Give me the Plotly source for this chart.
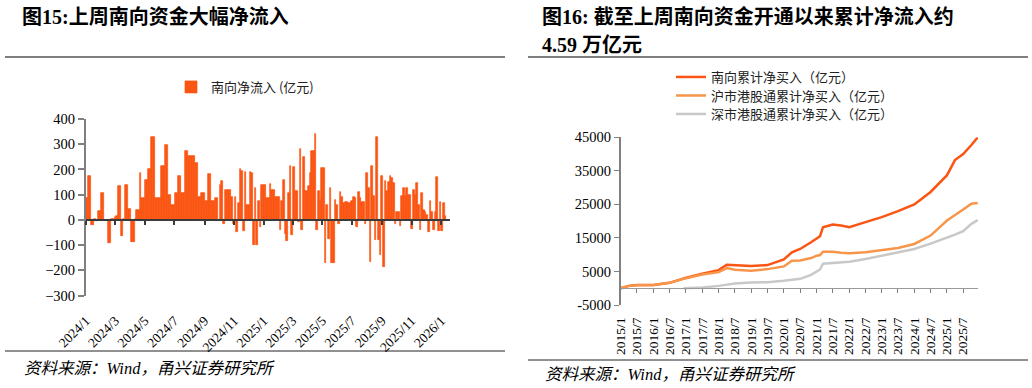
import plotly.graph_objects as go
import pandas as pd

W, H = 1032, 388


def px(x):
    return x / W


def py(y):
    return 1 - y / H


# ---------------- Data: left chart (南向净流入, 亿元) ----------------
flow_values = [
    85, 172, 172, -20, -20, 5, -5, 35, 35, 105, 105, 0, 0, -90, -90, 5, 5, 10, 15, 135,
    135, -65, 5, 138, 138, 45, 45, -88, -88, 5, 40, 40, 185, 88, 88, 160, 160, 200, 200, 328,
    328, 85, 85, 85, 85, 215, 215, 298, 298, 98, 98, 60, 60, 108, 108, 175, 175, 105, 105, 275,
    275, 255, 255, 252, 252, 225, 225, 92, 92, 105, 105, 75, 75, 180, 180, 75, 75, 88, 88, 0,
    140, 155, -15, 120, 120, 118, 118, 90, -15, 90, -48, 65, 200, 195, -45, 188, 60, 60, 188, 185,
    -100, 125, -100, 75, -30, 140, 140, 140, 85, 85, 143, 118, 118, 92, 92, 90, -40, 75, 158, -55,
    -85, 105, 212, -60, 210, 115, 115, -10, 280, -40, 250, 115, 115, 135, 185, 275, 275, 340, -40, 115,
    80, 205, 205, -170, 60, -75, 128, -172, -172, 80, 60, -15, 110, 90, 65, 70, 70, 65, 65, 75,
    90, 85, -30, 112, 85, 70, 70, -15, 185, 125, -168, 215, 95, -80, 330, -80, -140, 175, -188, 155,
    115, 150, 175, 165, 148, -15, 30, 30, -25, 95, 128, 95, 128, 100, 100, -35, 120, 100, 148, 60,
    -40, 105, 40, 30, 20, -50, 75, 30, -40, 30, 170, -45, 70, -45, 65, 15,
]
flow_start, flow_end = "2024-01-03", "2026-01-10"
left_tickvals = ["2024-01-01", "2024-03-01", "2024-05-01", "2024-07-01", "2024-09-01", "2024-11-01",
                 "2025-01-01", "2025-03-01", "2025-05-01", "2025-07-01", "2025-09-01", "2025-11-01",
                 "2026-01-01"]
left_ticktext = ["2024/1", "2024/3", "2024/5", "2024/7", "2024/9", "2024/11",
                 "2025/1", "2025/3", "2025/5", "2025/7", "2025/9", "2025/11", "2026/1"]

# ---------------- Data: right chart (累计净买入, 亿元) ----------------
cum_dates = ["2015-01-02", "2015-04-01", "2015-07-01", "2016-01-04", "2016-07-01", "2017-01-03",
             "2017-07-03", "2018-01-02", "2018-04-02", "2018-07-02", "2019-01-02", "2019-07-02",
             "2020-01-02", "2020-04-01", "2020-07-02", "2020-11-02", "2021-01-04", "2021-02-10",
             "2021-03-15", "2021-07-02", "2021-10-04", "2022-01-04", "2022-07-04", "2023-01-03",
             "2023-07-03", "2024-01-02", "2024-07-02", "2025-01-02", "2025-04-01", "2025-07-02",
             "2025-10-02", "2025-12-12"]
south_total = [0, 700, 960, 1000, 1600, 3100, 4300, 5400, 7000, 6800, 6600, 6900,
               8600, 10700, 11700, 13700, 14900, 15500, 18200, 19000, 18700, 18200, 19700, 21200,
               23000, 25000, 28700, 33700, 38200, 40000, 42700, 45000]
sh_total = [0, 700, 900, 1000, 1600, 3000, 4100, 4800, 6000, 5500, 5200, 5700,
            6500, 8200, 8300, 9000, 9700, 9900, 10900, 10900, 10600, 10400, 10700, 11400,
            12000, 13200, 15700, 20200, 21700, 23500, 25200, 25400]
sz_dates = ["2016-12-05", "2017-07-03", "2018-01-02", "2018-07-02", "2019-01-02", "2019-07-02",
            "2020-01-02", "2020-07-02", "2020-11-02", "2021-01-04", "2021-02-10", "2021-03-15",
            "2021-07-02", "2022-01-04", "2022-07-04", "2023-01-03", "2023-07-03", "2024-01-02",
            "2024-07-02", "2025-01-02", "2025-04-01", "2025-07-02", "2025-10-02", "2025-12-12"]
sz_total = [0, 200, 700, 1400, 1700, 1800, 2200, 2800, 4000, 5000, 5600, 7300,
            7600, 7900, 8700, 9700, 10800, 11700, 13300, 15000, 16000, 17000, 19200, 20300]
right_tickvals = [f"{y}-{m:02d}-01" for y in range(2015, 2026) for m in (1, 7)]
right_ticktext = [f"{y}/{m}" for y in range(2015, 2026) for m in (1, 7)]
right_yticks = [-5000, 5000, 15000, 25000, 35000, 45000]
right_yticktext = ["-5000", "5000", "15000", "25000", "35000", "45000"]

# ---------------- Styles ----------------
SERIF = "Liberation Serif, Times New Roman, Noto Sans CJK SC"
CJK = "Noto Sans CJK SC"
RED = "#FA5512"
ORANGE = "#F7964A"
GRAY = "#C8C8C8"

flow_dates = pd.date_range(flow_start, flow_end, periods=len(flow_values))
left_range = ["2024-01-01", "2026-01-19"]
right_range = ["2015-01-01", "2025-12-15"]

fig = go.Figure()

fig.add_trace(go.Bar(
    x=flow_dates, y=flow_values, name="南向净流入 (亿元)",
    marker=dict(color=RED, line=dict(width=0.7, color=RED)),
    xaxis="x", yaxis="y", legend="legend",
))
fig.add_trace(go.Scatter(x=[flow_dates[0]], y=[0], mode="markers", marker=dict(opacity=0),
                         showlegend=False, hoverinfo="skip", xaxis="x3", yaxis="y"))

fig.add_trace(go.Scatter(x=cum_dates, y=south_total, name="南向累计净买入（亿元）", mode="lines",
                         line=dict(color=RED, width=2.5), xaxis="x2", yaxis="y2", legend="legend2"))
fig.add_trace(go.Scatter(x=cum_dates, y=sh_total, name="沪市港股通累计净买入（亿元）", mode="lines",
                         line=dict(color=ORANGE, width=2.5), xaxis="x2", yaxis="y2", legend="legend3"))
fig.add_trace(go.Scatter(x=sz_dates, y=sz_total, name="深市港股通累计净买入（亿元）", mode="lines",
                         line=dict(color=GRAY, width=2.5), xaxis="x2", yaxis="y2", legend="legend4"))
fig.add_trace(go.Scatter(x=[cum_dates[0]], y=[0], mode="markers", marker=dict(opacity=0),
                         showlegend=False, hoverinfo="skip", xaxis="x4", yaxis="y2"))

left_dom_x = [px(86), px(450)]
left_dom_y = [py(295.5), py(119)]
right_dom_x = [px(620.7), px(978)]
right_dom_y = [py(305), py(137.3)]

legend_font = dict(family=CJK, size=13, color="#222")


def line_legend(ycenter):
    return dict(x=px(671), y=py(ycenter), xanchor="left", yanchor="middle",
                font=legend_font, bgcolor="rgba(0,0,0,0)", itemwidth=30)


fig.update_layout(
    width=W, height=H,
    margin=dict(l=0, r=0, t=0, b=0),
    paper_bgcolor="white", plot_bgcolor="rgba(0,0,0,0)",
    bargap=0,
    showlegend=True,
    xaxis=dict(domain=left_dom_x, anchor="y", type="date", range=left_range,
               tickmode="array", tickvals=left_tickvals, ticktext=left_ticktext,
               tickangle=-45, ticks="outside", ticklen=11, tickcolor="rgba(0,0,0,0)",
               showline=False, showgrid=False, zeroline=False, automargin=False,
               tickfont=dict(family=SERIF, size=13.5, color="#000")),
    xaxis3=dict(overlaying="x", anchor="free", position=py(220), type="date", range=left_range,
                tickmode="array", tickvals=left_tickvals, showticklabels=False,
                ticks="outside", ticklen=4, tickwidth=1.5, tickcolor="#3a3a3a",
                showline=True, linecolor="#3a3a3a", linewidth=2,
                showgrid=False, zeroline=False, automargin=False),
    yaxis=dict(domain=left_dom_y, anchor="x", range=[-300, 400], dtick=100, tick0=0,
               ticks="outside", ticklen=6, tickcolor="#808080", tickwidth=1.5,
               showline=True, linecolor="#808080", linewidth=2,
               showgrid=False, zeroline=False, automargin=False,
               tickfont=dict(family=SERIF, size=14.5, color="#000")),
    xaxis2=dict(domain=right_dom_x, anchor="y2", type="date", range=right_range,
                tickmode="array", tickvals=right_tickvals, ticktext=right_ticktext,
                tickangle=-90, ticks="outside", ticklen=6, tickcolor="rgba(0,0,0,0)",
                showline=False, showgrid=False, zeroline=False, automargin=False,
                tickfont=dict(family=SERIF, size=13.5, color="#000")),
    xaxis4=dict(overlaying="x2", anchor="free", position=py(287.5), type="date", range=right_range,
                tickmode="array", tickvals=right_tickvals, showticklabels=False,
                ticks="outside", ticklen=4, tickwidth=1, tickcolor="#7f7f7f",
                showline=True, linecolor="#9a9a9a", linewidth=1.2,
                showgrid=False, zeroline=False, automargin=False),
    yaxis2=dict(domain=right_dom_y, anchor="x2", range=[-5000, 45000],
                tickmode="array", tickvals=right_yticks, ticktext=right_yticktext,
                ticks="outside", ticklen=5, tickcolor="#808080", tickwidth=1.2,
                showline=True, linecolor="#808080", linewidth=1.5,
                showgrid=False, zeroline=False, automargin=False,
                tickfont=dict(family=SERIF, size=14.5, color="#000")),
    legend=dict(x=px(171), y=py(72), xanchor="left", yanchor="top",
                font=dict(family=CJK, size=13, color="#222"),
                bgcolor="rgba(0,0,0,0)", itemwidth=30),
    legend2=line_legend(77),
    legend3=line_legend(95.5),
    legend4=line_legend(114),
)

anns = [
    dict(text="<b>图15:上周南向资金大幅净流入</b>", x=px(20), y=py(17), size=20),
    dict(text="<b>图16: 截至上周南向资金开通以来累计净流入约</b>", x=px(540), y=py(17), size=20),
    dict(text="<b>4.59 万亿元</b>", x=px(540), y=py(45), size=20),
    dict(text="<i>资料来源：Wind，甬兴证券研究所</i>", x=px(22), y=py(368), size=16.5),
    dict(text="<i>资料来源：Wind，甬兴证券研究所</i>", x=px(543), y=py(374), size=16.5),
]
for a in anns:
    fig.add_annotation(text=a["text"], x=a["x"], y=a["y"], xref="paper", yref="paper",
                       xanchor="left", yanchor="middle", showarrow=False,
                       font=dict(family=SERIF, size=a["size"], color="#000"))

for (x0, x1, y, c, w) in [(5, 505, 57, "#555", 1.5), (528, 1028, 57, "#555", 1.5),
                          (5, 505, 351, "#222", 1), (528, 1028, 360, "#222", 1)]:
    fig.add_shape(type="line", xref="paper", yref="paper", x0=px(x0), x1=px(x1),
                  y0=py(y), y1=py(y), line=dict(color=c, width=w))

fig.write_html("out.html", config={"displayModeBar": False},
               post_script="document.body.style.margin='0';")
